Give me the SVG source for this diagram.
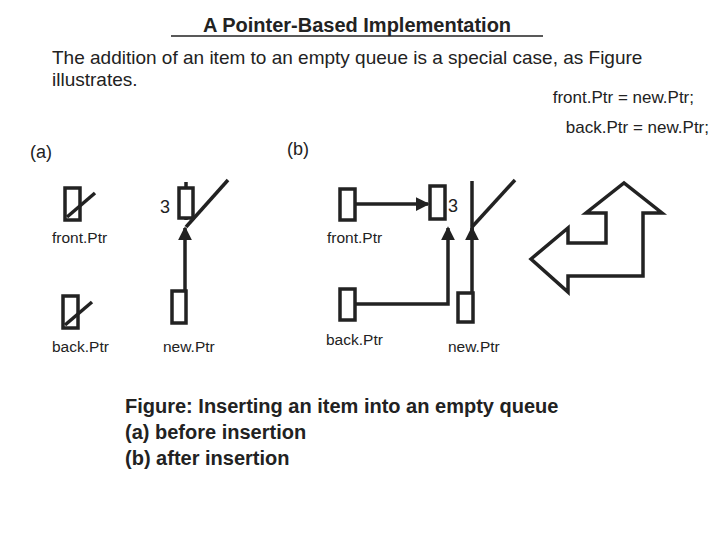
<svg xmlns="http://www.w3.org/2000/svg" width="720" height="540" viewBox="0 0 720 540">
<style>
text{font-family:"Liberation Sans",Arial,sans-serif;fill:#222}
.b{fill:#fff;stroke:#222;stroke-width:3.5}
.l{fill:none;stroke:#222;stroke-width:3.5}
.s{font-size:15.5px}
.n{font-size:18px}
.r{font-size:17px}
.c{font-size:20px;font-weight:bold}
</style>
<defs><marker id="a" markerWidth="4" markerHeight="4" refX="3.5" refY="2" orient="auto" markerUnits="strokeWidth"><path d="M0,0L4,2L0,4z" fill="#222"/></marker></defs>
<rect width="720" height="540" fill="#fff"/>
<text x="357" y="32" text-anchor="middle" font-size="20" font-weight="bold">A Pointer-Based Implementation</text>
<line x1="171" y1="36" x2="543" y2="36" stroke="#222" stroke-width="1.5"/>
<text x="52" y="64" font-size="19">The addition of an item to an empty queue is a special case, as Figure</text>
<text x="52" y="86" font-size="19">illustrates.</text>
<text x="694" y="103" text-anchor="end" class="r">front.Ptr = new.Ptr;</text>
<text x="709" y="133" text-anchor="end" class="r">back.Ptr = new.Ptr;</text>
<text x="30" y="158" font-size="18">(a)</text>
<text x="287" y="155" font-size="18">(b)</text>
<g id="connectors">
<line class="l" x1="185" y1="290" x2="185" y2="228" marker-end="url(#a)"/>
<line class="l" x1="356" y1="204" x2="428" y2="204" marker-end="url(#a)"/>
<polyline class="l" points="356,304 448,304 448,228" marker-end="url(#a)"/>
<line class="l" x1="472" y1="292" x2="472" y2="228" marker-end="url(#a)"/>
</g>
<g id="a-front"><rect class="b" x="65" y="188" width="15" height="32"/><line class="l" x1="67" y1="217" x2="95" y2="193"/><text x="52" y="243" class="s">front.Ptr</text></g>
<g id="a-back"><rect class="b" x="63" y="296" width="15" height="32"/><line class="l" x1="65" y1="325" x2="92" y2="302"/><text x="52" y="352" class="s">back.Ptr</text></g>
<g id="a-node"><text x="160" y="213" class="n">3</text><line class="l" x1="186" y1="182" x2="186" y2="220"/><rect class="b" x="179" y="188" width="14" height="30"/><line class="l" x1="186" y1="227" x2="228" y2="180"/></g>
<g id="a-new"><rect class="b" x="172" y="291" width="14" height="32"/><text x="163" y="352" class="s">new.Ptr</text></g>
<g id="b-front"><rect class="b" x="340" y="189" width="15" height="31"/><text x="327" y="243" class="s">front.Ptr</text></g>
<g id="b-node"><rect class="b" x="430" y="186" width="15" height="33"/><text x="448" y="212" class="n">3</text><line class="l" x1="472" y1="181" x2="472" y2="230"/><line class="l" x1="472" y1="227" x2="515" y2="180"/></g>
<g id="b-back"><rect class="b" x="340" y="289" width="15" height="31"/><text x="326" y="345" class="s">back.Ptr</text></g>
<g id="b-new"><rect class="b" x="458" y="293" width="15" height="29"/><text x="448" y="352" class="s">new.Ptr</text></g>
<polygon class="l" points="531,259 568,228 568,243 606,243 606,213 586,213 624,183 662,213 643,213 643,276 568,276 568,292"/>
<text x="125" y="413" class="c">Figure: Inserting an item into an empty queue</text>
<text x="125" y="439" class="c">(a)  before insertion</text>
<text x="125" y="465" class="c">(b)  after insertion</text>
</svg>
